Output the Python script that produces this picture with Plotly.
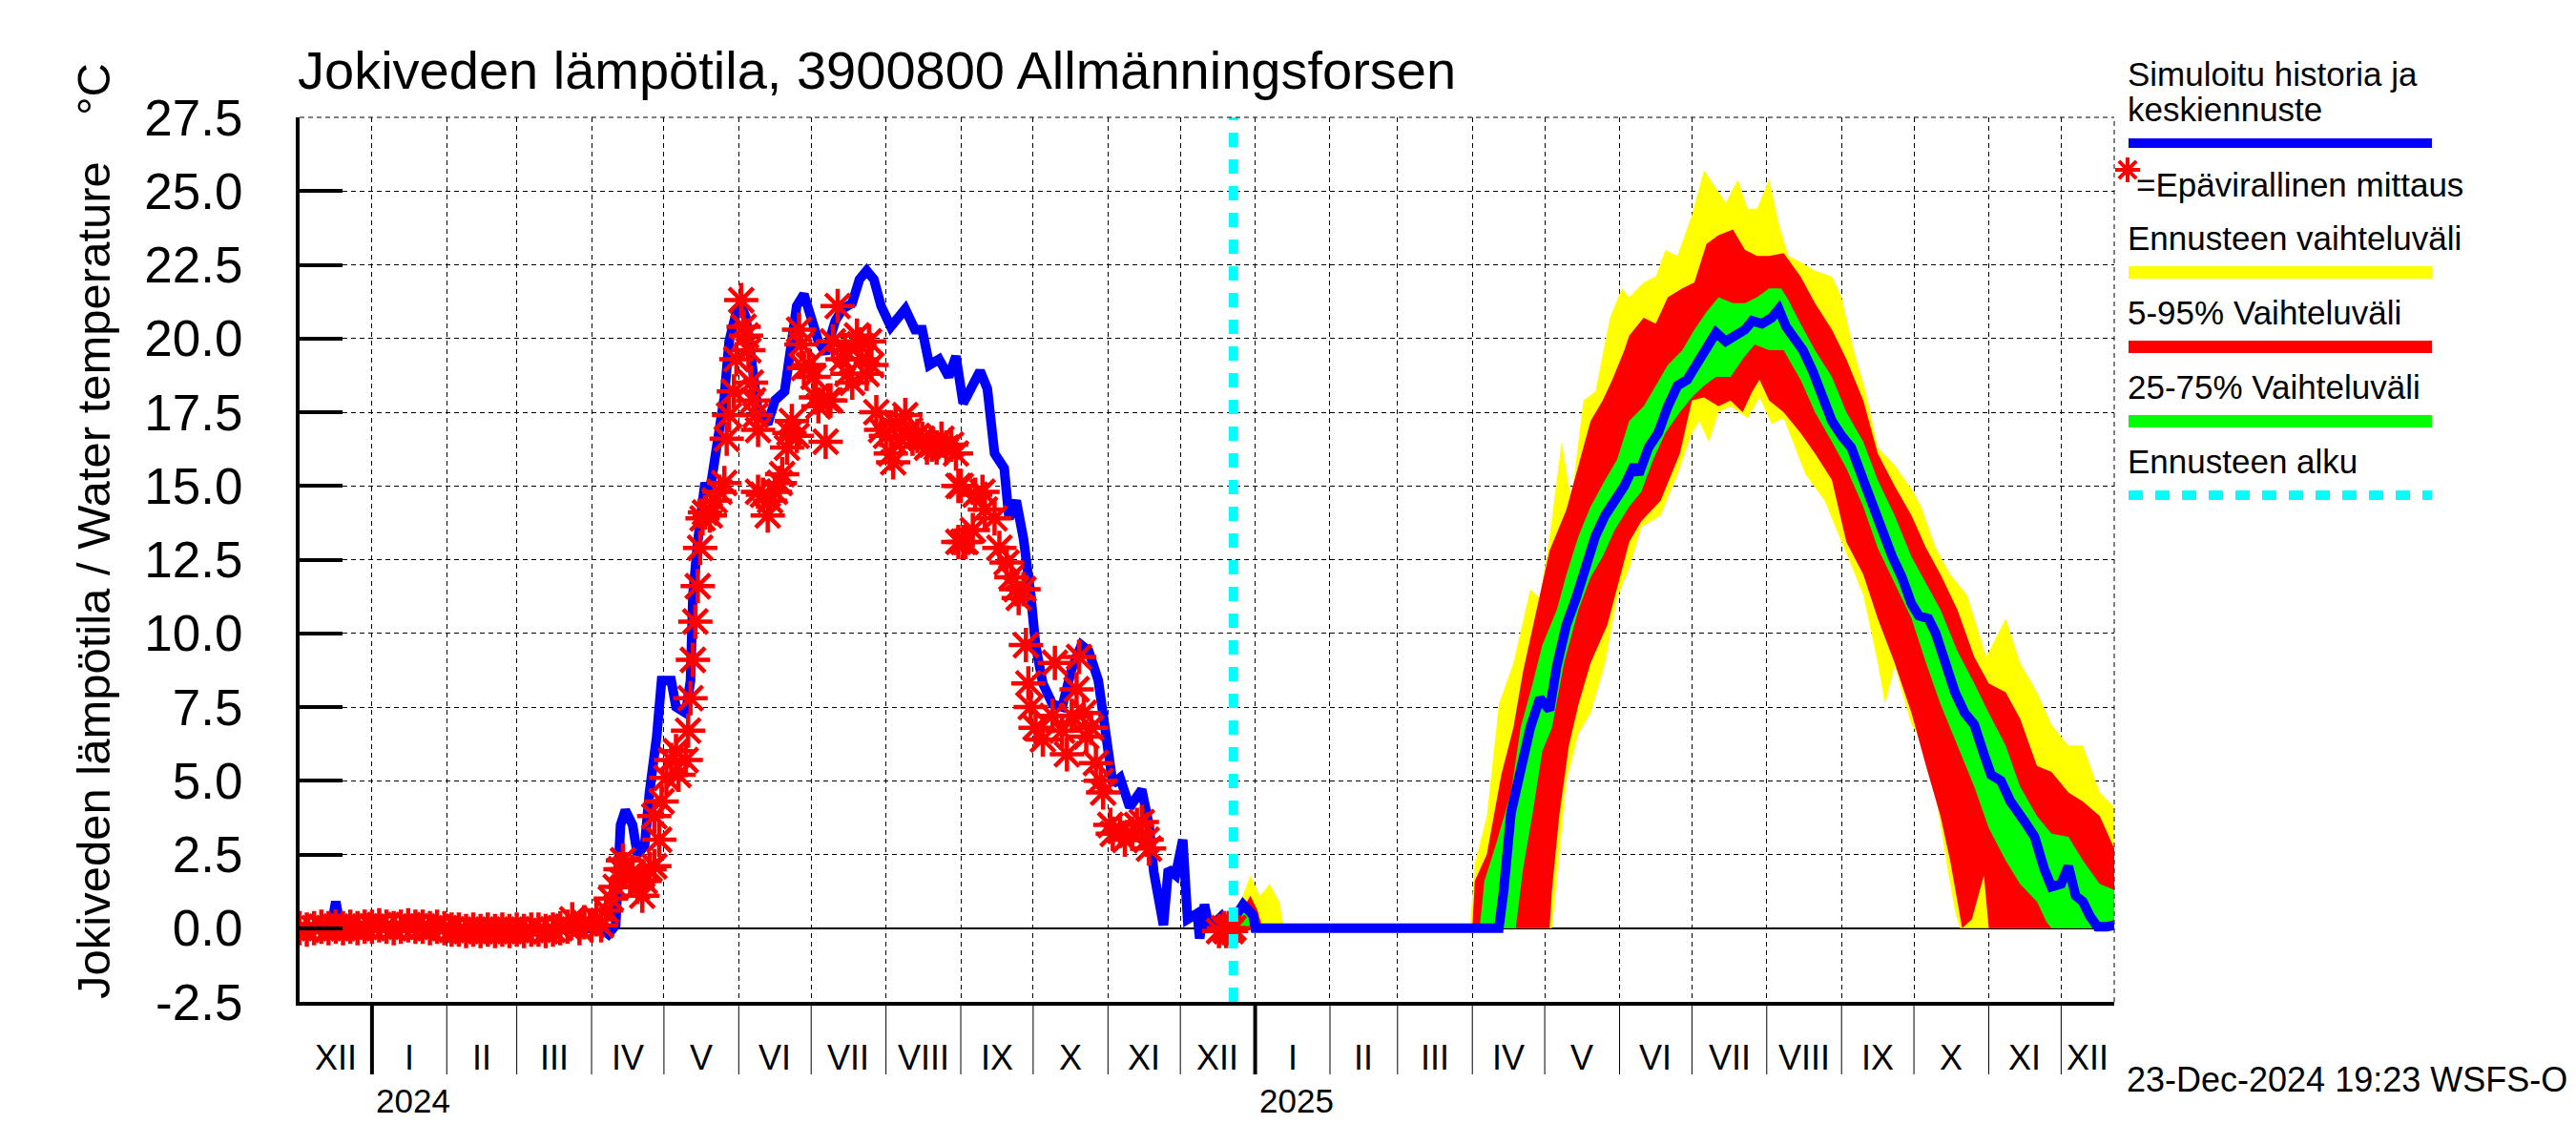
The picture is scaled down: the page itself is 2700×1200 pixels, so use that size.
import plotly.graph_objects as go
import pandas as pd

FONT = "Liberation Sans, Arial, Helvetica, sans-serif"

# ---------------- data ----------------
x_start = "2023-12-02"
x_end = "2025-12-23"
forecast_start = "2024-12-23"

y_ticks = [-2.5, 0.0, 2.5, 5.0, 7.5, 10.0, 12.5, 15.0, 17.5, 20.0, 22.5, 25.0, 27.5]
month_labels = ["I", "II", "III", "IV", "V", "VI", "VII", "VIII", "IX", "X", "XI", "XII"]
year_labels = ["2024", "2025"]

# simulated history (blue)
hist_dates = ["2023-12-02", "2023-12-10", "2023-12-15", "2023-12-17", "2023-12-19", "2024-01-15",
              "2024-02-15", "2024-03-15", "2024-04-05", "2024-04-08", "2024-04-11", "2024-04-13",
              "2024-04-15", "2024-04-18", "2024-04-20", "2024-04-23", "2024-04-25", "2024-04-28",
              "2024-04-30", "2024-05-04", "2024-05-06", "2024-05-10", "2024-05-12", "2024-05-13",
              "2024-05-15", "2024-05-18", "2024-05-20", "2024-05-22", "2024-05-24", "2024-05-26",
              "2024-05-28", "2024-05-31", "2024-06-02", "2024-06-04", "2024-06-07", "2024-06-09",
              "2024-06-13", "2024-06-16", "2024-06-20", "2024-06-22", "2024-06-25", "2024-06-28",
              "2024-07-01", "2024-07-04", "2024-07-07", "2024-07-11", "2024-07-14", "2024-07-18",
              "2024-07-21", "2024-07-24", "2024-07-27", "2024-07-30", "2024-08-03", "2024-08-09",
              "2024-08-13", "2024-08-16", "2024-08-19", "2024-08-23", "2024-08-27", "2024-08-30",
              "2024-09-02", "2024-09-06", "2024-09-09", "2024-09-12", "2024-09-15", "2024-09-19",
              "2024-09-21", "2024-09-24", "2024-09-27", "2024-09-30", "2024-10-02", "2024-10-05",
              "2024-10-09", "2024-10-13", "2024-10-17", "2024-10-21", "2024-10-24", "2024-10-28",
              "2024-10-31", "2024-11-03", "2024-11-06", "2024-11-10", "2024-11-15", "2024-11-18",
              "2024-11-20", "2024-11-24", "2024-11-26", "2024-11-29", "2024-12-02", "2024-12-04",
              "2024-12-08", "2024-12-09", "2024-12-11", "2024-12-13", "2024-12-18", "2024-12-21",
              "2024-12-23"]
hist_vals = [0.0, 0.0, 0.0, 0.9, 0.0, 0.0,
             -0.05, -0.05, 0.0, -0.2, 0.1, 3.5,
             4.0, 3.5, 2.5, 2.8, 4.6, 6.5,
             8.4, 8.4, 7.5, 7.3, 8.4, 11.3,
             13.1, 15.1, 14.8, 15.8, 16.7, 18.0,
             19.9, 20.9, 21.1, 20.7, 18.8, 17.5,
             17.1, 17.9, 18.2, 19.3, 21.1, 21.5,
             20.6, 19.9, 19.5, 20.6, 21.0, 21.2,
             22.0, 22.3, 22.0, 21.1, 20.4, 21.0,
             20.3, 20.3, 19.1, 19.3, 18.7, 19.4,
             17.8, 18.5, 18.9, 18.3, 16.1, 15.6,
             13.9, 14.5, 13.2, 11.3, 9.6, 8.3,
             7.6, 7.5, 8.8, 9.6, 9.4, 8.4,
             6.7, 4.9, 5.1, 4.1, 4.7, 3.5,
             1.9, 0.1, 2.0, 1.8, 3.0, 0.3,
             0.5, -0.35, 0.8, 0.0, 0.4, 0.0,
             0.3]

# median forecast (blue, continues history)
fc_dates = ["2024-12-24", "2024-12-27", "2024-12-31", "2025-01-01", "2025-04-12", "2025-04-14",
            "2025-04-17", "2025-04-21", "2025-04-25", "2025-04-29", "2025-05-03", "2025-05-06",
            "2025-05-10", "2025-05-14", "2025-05-18", "2025-05-22", "2025-05-26", "2025-05-30",
            "2025-06-03", "2025-06-07", "2025-06-09", "2025-06-13", "2025-06-17", "2025-06-21",
            "2025-06-25", "2025-06-29", "2025-07-03", "2025-07-07", "2025-07-11", "2025-07-15",
            "2025-07-19", "2025-07-23", "2025-07-26", "2025-07-30", "2025-08-03", "2025-08-06",
            "2025-08-09", "2025-08-12", "2025-08-16", "2025-08-20", "2025-08-24", "2025-08-28",
            "2025-09-01", "2025-09-05", "2025-09-10", "2025-09-14", "2025-09-18", "2025-09-22",
            "2025-09-26", "2025-09-30", "2025-10-03", "2025-10-07", "2025-10-10", "2025-10-14",
            "2025-10-18", "2025-10-22", "2025-10-26", "2025-10-30", "2025-11-02", "2025-11-06",
            "2025-11-10", "2025-11-16", "2025-11-20", "2025-11-24", "2025-11-27", "2025-12-01",
            "2025-12-04", "2025-12-07", "2025-12-10", "2025-12-13", "2025-12-16", "2025-12-20",
            "2025-12-23"]
fc_vals = [0.4, 0.8, 0.45, 0.0, 0.0, 1.3,
           3.9, 5.5, 6.8, 7.8, 7.4, 8.9,
           10.3, 11.2, 12.4, 13.3, 14.0, 14.5,
           15.0, 15.7, 15.4, 16.3, 16.8, 17.7,
           18.4, 18.6, 19.1, 19.6, 20.2, 19.9,
           20.1, 20.3, 20.6, 20.5, 20.7, 21.0,
           20.4, 20.0, 19.6, 18.9, 18.0, 17.2,
           16.7, 16.3, 15.2, 14.3, 13.3, 12.6,
           11.9, 11.0, 10.6, 10.5, 10.0, 8.9,
           8.0, 7.3, 6.9, 5.9, 5.2, 5.0,
           4.3, 3.6, 3.1, 2.0, 1.4, 1.5,
           2.1, 1.1, 0.9, 0.4, 0.05, 0.05,
           0.1]

# unofficial measurements (red stars)
obs_dates = ["2023-12-02", "2023-12-05", "2023-12-08", "2023-12-11", "2023-12-14", "2023-12-17",
             "2023-12-20", "2023-12-23", "2023-12-26", "2023-12-29", "2024-01-01", "2024-01-04",
             "2024-01-07", "2024-01-10", "2024-01-13", "2024-01-16", "2024-01-19", "2024-01-22",
             "2024-01-25", "2024-01-28", "2024-01-31", "2024-02-03", "2024-02-06", "2024-02-09",
             "2024-02-12", "2024-02-15", "2024-02-18", "2024-02-21", "2024-02-24", "2024-02-27",
             "2024-03-01", "2024-03-04", "2024-03-07", "2024-03-10", "2024-03-13", "2024-03-16",
             "2024-03-19", "2024-03-22", "2024-03-24", "2024-03-27", "2024-03-29", "2024-04-01",
             "2024-04-03", "2024-04-05",
             "2024-04-07", "2024-04-09", "2024-04-11", "2024-04-13", "2024-04-14", "2024-04-15",
             "2024-04-17", "2024-04-18", "2024-04-20", "2024-04-22", "2024-04-23", "2024-04-25",
             "2024-04-27", "2024-04-29", "2024-04-27", "2024-04-30", "2024-05-02", "2024-05-04",
             "2024-05-06", "2024-05-07", "2024-05-10", "2024-05-11", "2024-05-12", "2024-05-13",
             "2024-05-14", "2024-05-15", "2024-05-16", "2024-05-17", "2024-05-18", "2024-05-20",
             "2024-05-22", "2024-05-24", "2024-05-26", "2024-05-27", "2024-05-28", "2024-05-30",
             "2024-05-31", "2024-06-02", "2024-06-03", "2024-06-04", "2024-06-05", "2024-06-06",
             "2024-06-07", "2024-06-08", "2024-06-09", "2024-06-09", "2024-06-11", "2024-06-13",
             "2024-06-14", "2024-06-16", "2024-06-18", "2024-06-19", "2024-06-21", "2024-06-22",
             "2024-06-23", "2024-06-25", "2024-06-26", "2024-06-27", "2024-06-28", "2024-06-30",
             "2024-07-02", "2024-07-03", "2024-07-04", "2024-07-07", "2024-07-08", "2024-07-09",
             "2024-07-10", "2024-07-12", "2024-07-14", "2024-07-15", "2024-07-16", "2024-07-18",
             "2024-07-20", "2024-07-21", "2024-07-22", "2024-07-24", "2024-07-25", "2024-07-26",
             "2024-07-28", "2024-07-30", "2024-08-01", "2024-08-03", "2024-08-04", "2024-08-05",
             "2024-08-07", "2024-08-09", "2024-08-11", "2024-08-12", "2024-08-14", "2024-08-16",
             "2024-08-18", "2024-08-20", "2024-08-22", "2024-08-24", "2024-08-26", "2024-08-28",
             "2024-08-30", "2024-08-31", "2024-08-31",
             "2024-09-01", "2024-09-02", "2024-09-03", "2024-09-06", "2024-09-07", "2024-09-10",
             "2024-09-11", "2024-09-15", "2024-09-17", "2024-09-20", "2024-09-22", "2024-09-24",
             "2024-09-25", "2024-09-27", "2024-09-28", "2024-09-29", "2024-09-30", "2024-10-02",
             "2024-10-05", "2024-10-09", "2024-10-10", "2024-10-13", "2024-10-15", "2024-10-17",
             "2024-10-19", "2024-10-20", "2024-10-22", "2024-10-23", "2024-10-25", "2024-10-27",
             "2024-10-29", "2024-10-30", "2024-11-02", "2024-11-03", "2024-11-06", "2024-11-08",
             "2024-11-11", "2024-11-13", "2024-11-15", "2024-11-17", "2024-11-18",
             "2024-12-17", "2024-12-19", "2024-12-20", "2024-12-21", "2024-12-22", "2024-12-23"]
obs_vals = [0.0, -0.05, 0.0, 0.05, 0.0, 0.05,
            0.0, 0.05, 0.0, 0.05, 0.05, 0.1,
            0.05, 0.0, 0.05, 0.1, 0.05, 0.05,
            0.0, 0.05, 0.0, -0.05, -0.05, -0.1,
            -0.05, -0.1, -0.05, -0.1, -0.05, -0.1,
            -0.05, -0.1, -0.05, -0.05, -0.1, -0.05,
            0.0, 0.05, 0.3, 0.0, 0.2, 0.1,
            0.3, 0.1,
            0.6, 1.0, 1.4, 2.0, 2.3, 2.0,
            1.7, 1.9, 1.4, 1.1, 1.6, 2.0,
            2.1, 3.0, 3.8, 4.3, 5.1, 5.7,
            6.0, 5.2, 5.7, 6.7, 7.8, 9.1,
            10.4, 11.6, 12.9, 13.9, 14.1, 14.0,
            14.5, 14.8, 15.1, 16.6, 17.4, 18.2,
            19.3, 21.3, 20.4, 20.1, 19.6, 18.5,
            17.9, 17.4, 16.9, 14.8, 14.7, 14.0,
            14.5, 14.8, 15.1, 15.4, 16.3, 16.8,
            17.2, 16.7, 20.3, 19.8, 19.0, 19.1,
            18.7, 18.0, 17.7, 16.5, 17.9, 17.9,
            19.9, 21.1, 19.3, 19.6, 18.8, 18.5,
            20.1, 19.8, 19.3, 18.8, 19.9, 19.1,
            17.5, 16.9, 16.7, 16.1, 15.8, 17.1,
            16.6, 17.4, 16.9, 16.6, 16.7, 16.6,
            16.3, 16.4, 16.3, 16.6, 16.3, 16.4,
            16.1, 15.0, 13.1,
            15.0, 13.1, 13.1, 13.5, 14.7, 14.8,
            14.2, 13.9, 12.9, 12.4, 11.9, 11.5,
            11.2, 11.5, 9.6, 8.3, 7.5, 6.8,
            6.4, 7.2, 9.0, 6.7, 5.9, 7.2,
            8.1, 9.2, 7.3, 6.5, 6.8, 5.6,
            5.0, 4.6, 3.5, 3.2, 3.3, 3.0,
            3.2, 3.5, 3.6, 3.0, 2.7,
            -0.1, 0.0, -0.1, 0.0, -0.1, 0.0]

# forecast range (yellow): upper and lower edges
yel_up_dates = ["2024-12-23", "2024-12-26", "2024-12-30", "2025-01-03", "2025-01-07", "2025-01-11",
                "2025-01-13", "2025-03-31", "2025-04-02", "2025-04-07", "2025-04-12", "2025-04-18",
                "2025-04-25", "2025-04-29", "2025-05-03", "2025-05-08", "2025-05-12", "2025-05-17",
                "2025-05-22", "2025-05-28", "2025-06-02", "2025-06-05", "2025-06-11", "2025-06-16",
                "2025-06-20", "2025-06-25", "2025-07-01", "2025-07-06", "2025-07-11", "2025-07-15",
                "2025-07-20", "2025-07-24", "2025-07-28", "2025-08-02", "2025-08-06", "2025-08-10",
                "2025-08-15", "2025-08-21", "2025-08-28", "2025-09-01", "2025-09-06", "2025-09-11",
                "2025-09-16", "2025-09-23", "2025-09-30", "2025-10-04", "2025-10-10", "2025-10-16",
                "2025-10-23", "2025-10-31", "2025-11-08", "2025-11-14", "2025-11-21", "2025-11-27",
                "2025-12-04", "2025-12-10", "2025-12-17", "2025-12-23"]
yel_up = [0.3, 0.9, 1.8, 1.1, 1.5, 0.9,
          0.0, 0.0, 2.2, 3.8, 7.6, 9.0,
          11.5, 11.2, 13.3, 16.5, 14.5, 17.9,
          18.2, 20.7, 21.7, 21.4, 21.9, 22.1,
          23.0, 22.8, 24.2, 25.7, 25.1, 24.6,
          25.4, 24.4, 24.4, 25.4, 23.9, 22.8,
          22.6, 22.3, 22.1, 21.4, 19.6, 18.2,
          16.3, 15.7, 14.9, 14.3, 12.9, 12.0,
          11.3, 9.2, 10.5, 9.0, 8.0, 6.9,
          6.2, 6.2, 4.6, 4.1]
yel_lo_dates = ["2024-12-23", "2025-05-04", "2025-05-06", "2025-05-10", "2025-05-15", "2025-05-20",
                "2025-05-26", "2025-05-31", "2025-06-05", "2025-06-10", "2025-06-18", "2025-06-25",
                "2025-07-01", "2025-07-04", "2025-07-08", "2025-07-12", "2025-07-17", "2025-07-24",
                "2025-07-29", "2025-08-03", "2025-08-08", "2025-08-17", "2025-08-25", "2025-09-01",
                "2025-09-10", "2025-09-16", "2025-09-19", "2025-09-23", "2025-09-30", "2025-10-04",
                "2025-10-10", "2025-10-15", "2025-10-18", "2025-10-20", "2025-12-23"]
yel_lo = [0.0, 0.0, 1.6, 5.0, 6.6, 7.3,
          9.0, 11.2, 12.2, 13.6, 14.0, 15.4,
          16.8, 17.2, 16.5, 17.5, 17.7, 17.3,
          18.0, 17.1, 17.3, 15.4, 14.5, 13.1,
          11.3, 9.0, 7.6, 8.9, 6.9, 6.4,
          4.5, 2.0, 0.6, 0.0, 0.0]

# 5-95 % range (red)
red_up_dates = ["2024-12-23", "2024-12-26", "2024-12-30", "2025-01-02", "2025-01-04", "2025-04-01",
                "2025-04-02", "2025-04-07", "2025-04-13", "2025-04-18", "2025-04-22", "2025-04-27",
                "2025-05-03", "2025-05-10", "2025-05-15", "2025-05-20", "2025-05-25", "2025-05-29",
                "2025-06-03", "2025-06-05", "2025-06-11", "2025-06-16", "2025-06-21", "2025-06-27",
                "2025-07-02", "2025-07-07", "2025-07-12", "2025-07-18", "2025-07-23", "2025-07-28",
                "2025-08-02", "2025-08-08", "2025-08-15", "2025-08-21", "2025-08-28", "2025-09-03",
                "2025-09-10", "2025-09-16", "2025-09-23", "2025-09-30", "2025-10-06", "2025-10-12",
                "2025-10-19", "2025-10-26", "2025-11-01", "2025-11-08", "2025-11-14", "2025-11-21",
                "2025-11-27", "2025-12-04", "2025-12-10", "2025-12-17", "2025-12-23"]
red_up = [0.3, 0.5, 1.1, 0.6, 0.0, 0.0,
          1.6, 2.5, 5.2, 6.8, 8.7, 10.6,
          12.8, 14.2, 15.7, 17.2, 17.9, 18.6,
          19.6, 20.1, 20.7, 20.5, 21.4, 21.7,
          21.9, 23.2, 23.5, 23.7, 23.0, 22.8,
          22.8, 22.9, 22.1, 21.2, 20.3, 19.3,
          17.9, 16.1, 15.0, 14.0, 12.9, 12.0,
          10.8, 9.2, 8.3, 8.0, 7.1, 5.5,
          5.3, 4.6, 4.3, 3.8, 2.7]
red_lo_dates = ["2024-12-23", "2025-05-03", "2025-05-04", "2025-05-07", "2025-05-11", "2025-05-15",
                "2025-05-20", "2025-05-27", "2025-05-31", "2025-06-05", "2025-06-10", "2025-06-18",
                "2025-06-26", "2025-07-01", "2025-07-06", "2025-07-12", "2025-07-17", "2025-07-22",
                "2025-07-26", "2025-07-29", "2025-08-02", "2025-08-08", "2025-08-15", "2025-08-21",
                "2025-08-28", "2025-09-03", "2025-09-10", "2025-09-16", "2025-09-23", "2025-09-30",
                "2025-10-06", "2025-10-12", "2025-10-16", "2025-10-19", "2025-10-21", "2025-10-25",
                "2025-10-28", "2025-10-30", "2025-11-01", "2025-12-23"]
red_lo = [0.0, 0.0, 1.3, 3.8, 6.2, 7.6,
          9.0, 10.3, 11.5, 13.1, 13.8, 14.5,
          16.1, 17.9, 18.0, 17.7, 17.9, 17.5,
          18.2, 18.6, 17.9, 17.5, 16.8, 16.1,
          15.2, 13.1, 12.0, 10.5, 9.0, 7.3,
          5.5, 3.8, 2.3, 0.9, 0.0, 0.3,
          1.2, 1.8, 0.0, 0.0]

# 25-75 % range (green)
grn_up_dates = ["2024-12-23", "2024-12-27", "2024-12-29", "2025-01-01", "2025-01-02", "2025-04-04",
                "2025-04-06", "2025-04-11", "2025-04-17", "2025-04-21", "2025-04-26", "2025-04-30",
                "2025-05-06", "2025-05-10", "2025-05-15", "2025-05-20", "2025-05-26", "2025-05-31",
                "2025-06-05", "2025-06-11", "2025-06-16", "2025-06-21", "2025-06-27", "2025-07-02",
                "2025-07-07", "2025-07-12", "2025-07-18", "2025-07-23", "2025-07-28", "2025-08-02",
                "2025-08-07", "2025-08-10", "2025-08-15", "2025-08-21", "2025-08-28", "2025-09-03",
                "2025-09-10", "2025-09-16", "2025-09-23", "2025-09-30", "2025-10-06", "2025-10-12",
                "2025-10-19", "2025-10-26", "2025-11-01", "2025-11-08", "2025-11-14", "2025-11-21",
                "2025-11-27", "2025-12-04", "2025-12-10", "2025-12-17", "2025-12-23"]
grn_up = [0.3, 0.9, 0.6, 0.2, 0.0, 0.0,
          1.6, 2.9, 4.6, 6.8, 8.3, 9.6,
          10.8, 12.0, 13.3, 14.3, 15.2, 15.9,
          17.2, 17.7, 18.4, 19.1, 19.6, 20.3,
          20.9, 21.4, 21.2, 21.2, 21.4, 21.7,
          21.7, 21.3, 20.5, 19.6, 18.7, 17.5,
          16.5, 15.2, 14.0, 12.6, 11.7, 10.8,
          9.4, 8.3, 7.3, 6.2, 4.8, 3.8,
          3.2, 3.1, 2.3, 1.5, 1.3]
grn_lo_dates = ["2024-12-23", "2025-04-19", "2025-04-22", "2025-04-26", "2025-04-30", "2025-05-04",
                "2025-05-09", "2025-05-15", "2025-05-20", "2025-05-25", "2025-05-30", "2025-06-05",
                "2025-06-10", "2025-06-15", "2025-06-20", "2025-06-26", "2025-07-01", "2025-07-06",
                "2025-07-11", "2025-07-17", "2025-07-22", "2025-07-27", "2025-08-02", "2025-08-08",
                "2025-08-15", "2025-08-21", "2025-08-28", "2025-09-03", "2025-09-10", "2025-09-16",
                "2025-09-23", "2025-09-30", "2025-10-06", "2025-10-12", "2025-10-19", "2025-10-26",
                "2025-11-01", "2025-11-08", "2025-11-14", "2025-11-21", "2025-11-25", "2025-11-27",
                "2025-12-23"]
grn_lo = [0.0, 0.0, 2.0, 3.9, 6.0, 6.8,
          9.0, 10.8, 11.9, 12.6, 13.5, 14.3,
          14.8, 15.9, 16.8, 17.5, 18.0, 18.4,
          18.7, 18.7, 19.3, 19.8, 19.6, 19.6,
          18.6, 17.5, 16.5, 15.6, 14.3, 12.9,
          11.7, 10.5, 9.0, 7.6, 6.2, 4.8,
          3.4, 2.3, 1.5, 0.9, 0.2, 0.0,
          0.0]

# ---------------- geometry (pixels of the 2700x1200 page) ----------------
W, H = 2700, 1200
PL, PR, PT, PB = 306, 2208, 115, 1042


def px(x):
    return (x - PL) / (PR - PL)


def py(y):
    return (PB - y) / (PB - PT)


fig = go.Figure()


def band(up_d, up_v, lo_d, lo_v, color):
    fig.add_trace(go.Scatter(
        x=list(up_d) + list(lo_d)[::-1],
        y=list(up_v) + list(lo_v)[::-1],
        fill="toself", fillcolor=color, mode="lines",
        line=dict(width=0, color=color), hoverinfo="skip", showlegend=False))


band(yel_up_dates, yel_up, yel_lo_dates, yel_lo, "#FFFF00")
band(red_up_dates, red_up, red_lo_dates, red_lo, "#FF0000")
band(grn_up_dates, grn_up, grn_lo_dates, grn_lo, "#00FF00")

fig.add_trace(go.Scatter(x=hist_dates + fc_dates, y=hist_vals + fc_vals, mode="lines",
                         line=dict(color="#0000FF", width=10), showlegend=False))

fig.add_trace(go.Scatter(x=obs_dates, y=obs_vals, mode="markers",
                         marker=dict(symbol="asterisk-open", size=30, color="#FF0000",
                                     line=dict(color="#FF0000", width=4.5)),
                         showlegend=False))

shapes = []
# forecast start line
shapes.append(dict(type="line", xref="x", yref="paper", x0=forecast_start, x1=forecast_start,
                   y0=0, y1=1, line=dict(color="#00FFFF", width=10, dash="15px,13px")))
# dashed frame top/right
shapes.append(dict(type="line", xref="paper", yref="paper", x0=0, x1=1, y0=1, y1=1,
                   line=dict(color="black", width=1, dash="5px,4px")))
shapes.append(dict(type="line", xref="paper", yref="paper", x0=1, x1=1, y0=0, y1=1,
                   line=dict(color="black", width=1, dash="5px,4px")))

# month tick lines below the axis and labels
xs, xe = pd.Timestamp(x_start), pd.Timestamp(x_end)
month_starts = pd.date_range(xs.to_period("M").to_timestamp(), xe, freq="MS")
grid_vals = [d for d in month_starts if xs < d <= xe]
annotations = []
tick_bottom = -(1118 - PB) / (PB - PT)
for d in grid_vals:
    shapes.append(dict(type="line", xref="x", yref="paper", x0=d, x1=d, y0=0, y1=tick_bottom,
                       line=dict(color="black", width=4 if d.month == 1 else 1)))
    if d.month == 1:
        lab = str(d.year)
        if lab in year_labels:
            annotations.append(dict(x=d, y=py(1145), xref="x", yref="paper", text=lab,
                                    xanchor="left", yanchor="middle", xshift=2, showarrow=False,
                                    font=dict(family=FONT, size=35, color="black")))
for d in month_starts:
    a = max(d, xs)
    b = min(d + pd.offsets.MonthBegin(1), xe)
    if b > a:
        annotations.append(dict(x=a + (b - a) / 2, y=py(1100), xref="x", yref="paper",
                                text=month_labels[d.month - 1], showarrow=False,
                                xanchor="center", yanchor="middle",
                                font=dict(family=FONT, size=36, color="black")))

# title, axis title, timestamp
annotations.append(dict(x=0, y=py(66), xref="paper", yref="paper", showarrow=False,
                        text="Jokiveden lämpötila, 3900800 Allmänningsforsen",
                        xanchor="left", yanchor="middle", xshift=-4,
                        font=dict(family=FONT, size=56, color="black")))
annotations.append(dict(x=px(90), y=py(600), xref="paper", yref="paper", showarrow=False,
                        text="Jokiveden lämpötila / Water temperature", textangle=-90,
                        xanchor="center", yanchor="middle",
                        font=dict(family=FONT, size=49, color="black")))
annotations.append(dict(x=px(90), y=py(86), xref="paper", yref="paper", showarrow=False,
                        text="°C", textangle=-90, xanchor="center", yanchor="middle",
                        font=dict(family=FONT, size=49, color="black")))
annotations.append(dict(x=px(2219), y=py(1123), xref="paper", yref="paper", showarrow=False,
                        text="23-Dec-2024 19:23 WSFS-O", xanchor="left", yanchor="middle",
                        font=dict(family=FONT, size=36, color="black")))

# legend
LX0, LX1 = 2223, 2541
leg_font = dict(family=FONT, size=35, color="black")
for txt, yy, xx in [("Simuloitu historia ja", 69, LX0), ("keskiennuste", 106, LX0),
                    ("=Epävirallinen mittaus", 185, 2232), ("Ennusteen vaihteluväli", 242, LX0),
                    ("5-95% Vaihteluväli", 319, LX0), ("25-75% Vaihteluväli", 397, LX0),
                    ("Ennusteen alku", 475, LX0)]:
    annotations.append(dict(x=px(xx), y=py(yy), xref="paper", yref="paper", text=txt,
                            showarrow=False, xanchor="left", yanchor="middle", xshift=-3,
                            font=leg_font))
for color, y0, y1 in [("#0000FF", 137, 147), ("#FFFF00", 271, 284), ("#FF0000", 349, 362),
                      ("#00FF00", 427, 440)]:
    shapes.append(dict(type="rect", xref="paper", yref="paper", x0=px(LX0), x1=px(LX1),
                       y0=py(y1), y1=py(y0), fillcolor=color, line=dict(width=0)))
shapes.append(dict(type="line", xref="paper", yref="paper", x0=px(LX0), x1=px(LX1),
                   y0=py(511), y1=py(511), line=dict(color="#00FFFF", width=10, dash="15px,13px")))
# legend star
cx, cy, r = 2222, 170, 13
d = r * 0.7071
path = (f"M {px(cx - r)},{py(cy)} L {px(cx + r)},{py(cy)} "
        f"M {px(cx)},{py(cy - r)} L {px(cx)},{py(cy + r)} "
        f"M {px(cx - d)},{py(cy - d)} L {px(cx + d)},{py(cy + d)} "
        f"M {px(cx - d)},{py(cy + d)} L {px(cx + d)},{py(cy - d)}")
shapes.append(dict(type="path", xref="paper", yref="paper", path=path,
                   line=dict(color="#FF0000", width=4)))

fig.update_layout(
    width=W, height=H,
    margin=dict(l=PL, r=W - PR, t=PT, b=H - PB, pad=0),
    paper_bgcolor="white", plot_bgcolor="white",
    showlegend=False,
    shapes=shapes, annotations=annotations,
    font=dict(family=FONT, color="black"),
    xaxis=dict(type="date", range=[x_start, x_end], tickmode="array", tickvals=grid_vals,
               showticklabels=False, ticks="", showgrid=True, gridcolor="black", gridwidth=1,
               griddash="5px,4px", showline=True, linecolor="black", linewidth=4,
               zeroline=False, mirror=False),
    yaxis=dict(range=[-2.5, 27.5], tickmode="array", tickvals=y_ticks,
               ticktext=[f"{v:.1f}" for v in y_ticks], ticks="inside", ticklen=45,
               tickwidth=4, tickcolor="black", showgrid=True, gridcolor="black", gridwidth=1,
               griddash="5px,4px", showline=True, linecolor="black", linewidth=4,
               zeroline=True, zerolinecolor="black", zerolinewidth=1.5,
               tickfont=dict(family=FONT, size=53, color="black"), ticklabelstandoff=45),
)

fig.write_html("out.html")
